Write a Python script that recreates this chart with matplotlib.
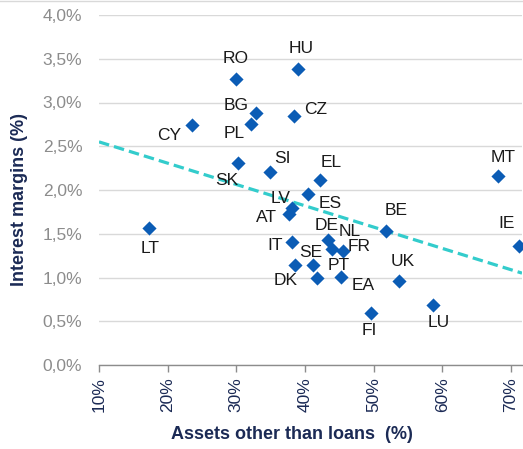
import matplotlib
matplotlib.use("Agg")
import matplotlib.pyplot as plt
from matplotlib.lines import Line2D

plt.rcParams['font.family'] = ['Liberation Sans', 'DejaVu Sans']

countries = ["RO", "HU", "BG", "PL", "CY", "CZ", "SK", "SI", "EL", "MT", "ES", "LV", "AT",
             "LT", "BE", "IE", "IT", "DE", "NL", "FR", "DK", "SE", "PT", "EA", "UK", "LU", "FI"]
assets_other = [29.9, 39.0, 32.8, 32.1, 23.6, 38.4, 30.2, 34.9, 42.2, 68.1, 40.5, 38.1, 37.7,
                17.3, 51.8, 71.2, 38.1, 43.4, 44.0, 45.5, 38.5, 41.2, 41.7, 45.2, 53.7, 58.6, 49.6]
margins = [3.27, 3.38, 2.88, 2.75, 2.74, 2.85, 2.31, 2.20, 2.11, 2.16, 1.95, 1.79, 1.73,
           1.57, 1.53, 1.36, 1.41, 1.43, 1.33, 1.30, 1.14, 1.14, 1.00, 1.01, 0.96, 0.69, 0.60]
# label offsets in pixels (dx, dy with y up)
label_dx = [0, 3, -19, -17, -23, 22, -11, 12, 11, 5, 22, -11, -23,
            1, 10, -13, -17, -2, 17, 16, -9, -2, 22, 22, 4, 6, -2]
label_dy = [20, 21, 7, -9, -10, 6, -18, 14, 18, 19, -9, 10, -4,
            -21, 21, 22, -4, 14, 17, 5, -15, 13, 12, -9, 20, -18, -18]

trend_x = [10, 71.6]
trend_y = [2.55, 1.05]

x_ticks = [10, 20, 30, 40, 50, 60, 70]
y_ticks = [0.0, 0.5, 1.0, 1.5, 2.0, 2.5, 3.0, 3.5, 4.0]

navy = "#1B2A55"
blue = "#0B5CB5"

fig = plt.figure(figsize=(5.23, 4.49), dpi=100)
ax = fig.add_axes([99/523, 1-365/449, (522-99)/523, (365-15)/449])

ax.set_xlim(10, 71.6)
ax.set_ylim(0, 4.0)

ax.plot(trend_x, trend_y, color="#33CCCC", lw=2.3, dashes=(3.3, 1.6), zorder=2)
ax.scatter(assets_other, margins, marker="D", s=52, color=blue, zorder=3,
           linewidths=0, clip_on=False)

for c, x, y, dx, dy in zip(countries, assets_other, margins, label_dx, label_dy):
    ax.annotate(c, (x, y), xytext=(dx, dy), textcoords="offset pixels",
                ha="center", va="center", fontsize=12.5, color="#1a1a1a", zorder=4)

ax.set_yticks(y_ticks)
ax.set_yticklabels([f"{v:.1f}%".replace(".", ",") for v in y_ticks])
ax.set_xticks(x_ticks)
ax.set_xticklabels([f"{v}%" for v in x_ticks], rotation=90)

ax.grid(axis="y", color="#D9D9D9", lw=1.0)
ax.set_axisbelow(True)
for s in ["top", "right", "left"]:
    ax.spines[s].set_visible(False)
ax.spines["bottom"].set_color("#8C8C8C")
ax.spines["bottom"].set_linewidth(1.0)
ax.spines["bottom"].set_zorder(1)

ax.tick_params(axis="y", length=0, labelsize=12.5, labelcolor="#8C8C8C", pad=12)
ax.tick_params(axis="x", length=5, width=1, color="#8C8C8C", labelsize=12.5,
               labelcolor=navy, pad=4)

ax.set_xlabel("Assets other than loans  (%)", fontsize=13, fontweight="bold",
              color=navy, va="top")
ax.set_ylabel("Interest margins (%)", fontsize=13, fontweight="bold",
              color=navy)
ax.xaxis.set_label_coords(0.455, -0.173)
ax.yaxis.set_label_coords(-0.168, 0.474)

fig.add_artist(Line2D([0, 1], [1 - 1/449, 1 - 1/449], color="#D9D9D9", lw=1.0))

fig.savefig("out.png", dpi=100)
